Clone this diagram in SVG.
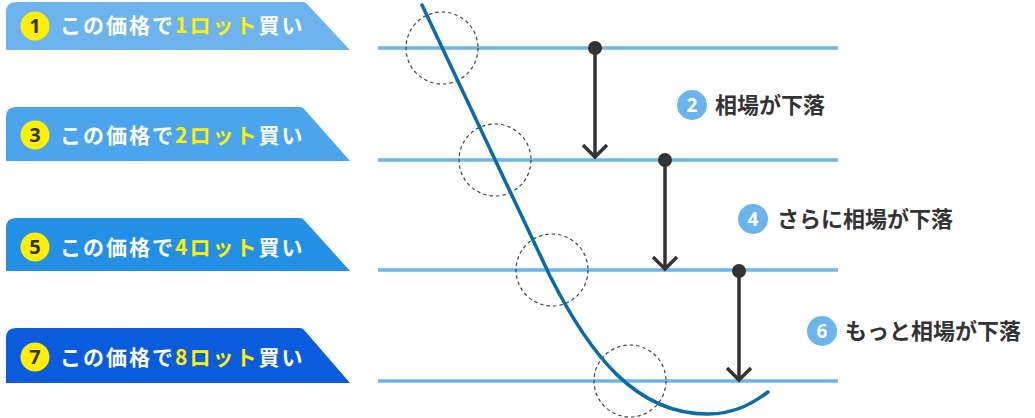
<svg xmlns="http://www.w3.org/2000/svg" width="1035" height="418" viewBox="0 0 1035 418">
<style>
.bt{font-family:"Noto Sans CJK JP","Noto Sans",sans-serif;font-weight:700;font-size:21px;fill:#fff;letter-spacing:2px}
.y{fill:#ffef00}
.bn{font-family:"Noto Sans","Noto Sans CJK JP",sans-serif;font-weight:700;font-size:20px;fill:#333;text-anchor:middle}
.lt{font-family:"Noto Sans CJK JP","Noto Sans",sans-serif;font-weight:700;font-size:22px;fill:#333}
.ln{font-family:"Noto Sans","Noto Sans CJK JP",sans-serif;font-weight:700;font-size:19px;fill:#fff;text-anchor:middle}
.hl{stroke:#6cb4ec;stroke-width:3.5;fill:none}
.dc{stroke:#444;stroke-width:1.2;stroke-dasharray:3.5 3;fill:none}
.ar{stroke:#333;stroke-width:3.5;fill:none}
.ycir{fill:#ffef00}
.bcir{fill:#6cb4ec}
</style>
<rect width="1035" height="418" fill="#fff"/>
<g id="banner1">
<path d="M16,2 H303 Q306,2 308,5 L350,50 H6 V12 Q6,2 16,2 Z" fill="#6db4ee"/>
<circle class="ycir" cx="35" cy="26" r="14.5"/>
<text class="bn" x="35" y="33">1</text>
<text class="bt" x="60" y="33">この価格で<tspan class="y">1ロット</tspan>買い</text>
</g>
<g id="banner2">
<path d="M16,107 H300 Q303,107 305,110 L350,161 H6 V117 Q6,107 16,107 Z" fill="#4aa5ec"/>
<circle class="ycir" cx="35" cy="135" r="14.5"/>
<text class="bn" x="35" y="142">3</text>
<text class="bt" x="60" y="143">この価格で<tspan class="y">2ロット</tspan>買い</text>
</g>
<g id="banner3">
<path d="M16,218 H300 Q303,218 305,221 L350,271 H6 V228 Q6,218 16,218 Z" fill="#2390e6"/>
<circle class="ycir" cx="35" cy="247" r="14.5"/>
<text class="bn" x="35" y="254">5</text>
<text class="bt" x="60" y="255">この価格で<tspan class="y">4ロット</tspan>買い</text>
</g>
<g id="banner4">
<path d="M16,328 H300 Q303,328 305,331 L350,383 H6 V338 Q6,328 16,328 Z" fill="#0a5cdc"/>
<circle class="ycir" cx="35" cy="357" r="14.5"/>
<text class="bn" x="35" y="364">7</text>
<text class="bt" x="60" y="365">この価格で<tspan class="y">8ロット</tspan>買い</text>
</g>
<g id="levels">
<line class="hl" x1="378" y1="48" x2="838" y2="48"/>
<line class="hl" x1="378" y1="160" x2="838" y2="160"/>
<line class="hl" x1="378" y1="270" x2="838" y2="270"/>
<line class="hl" x1="378" y1="381" x2="838" y2="381"/>
</g>
<g id="circles">
<circle class="dc" cx="442" cy="48" r="36"/>
<circle class="dc" cx="495" cy="160" r="36"/>
<circle class="dc" cx="552" cy="270" r="36"/>
<circle class="dc" cx="630" cy="381" r="36"/>
</g>
<g id="price-curve">
<path d="M422,5 L550,276 C590,355 636,414 707,414 C736,414 755,402 768,392" stroke="#0b6aa8" stroke-width="3.5" fill="none" stroke-linecap="round"/>
</g>
<g id="connectors">
<circle cx="595" cy="48" r="7" fill="#333"/>
<line class="ar" x1="595" y1="48" x2="595" y2="157"/>
<polyline class="ar" points="583,145 595,157 607,145"/>
<circle cx="665" cy="160" r="7" fill="#333"/>
<line class="ar" x1="665" y1="160" x2="665" y2="269"/>
<polyline class="ar" points="653,257 665,269 677,257"/>
<circle cx="739" cy="271" r="7" fill="#333"/>
<line class="ar" x1="739" y1="271" x2="739" y2="380"/>
<polyline class="ar" points="727,368 739,380 751,368"/>
</g>
<g id="label2">
<circle class="bcir" cx="692" cy="105" r="15"/>
<text class="ln" x="692" y="112">2</text>
<text class="lt" x="715" y="113">相場が下落</text>
</g>
<g id="label4">
<circle class="bcir" cx="753" cy="219" r="15"/>
<text class="ln" x="753" y="226">4</text>
<text class="lt" x="777" y="227">さらに相場が下落</text>
</g>
<g id="label6">
<circle class="bcir" cx="822" cy="331" r="15"/>
<text class="ln" x="822" y="338">6</text>
<text class="lt" x="845" y="339">もっと相場が下落</text>
</g>
</svg>
